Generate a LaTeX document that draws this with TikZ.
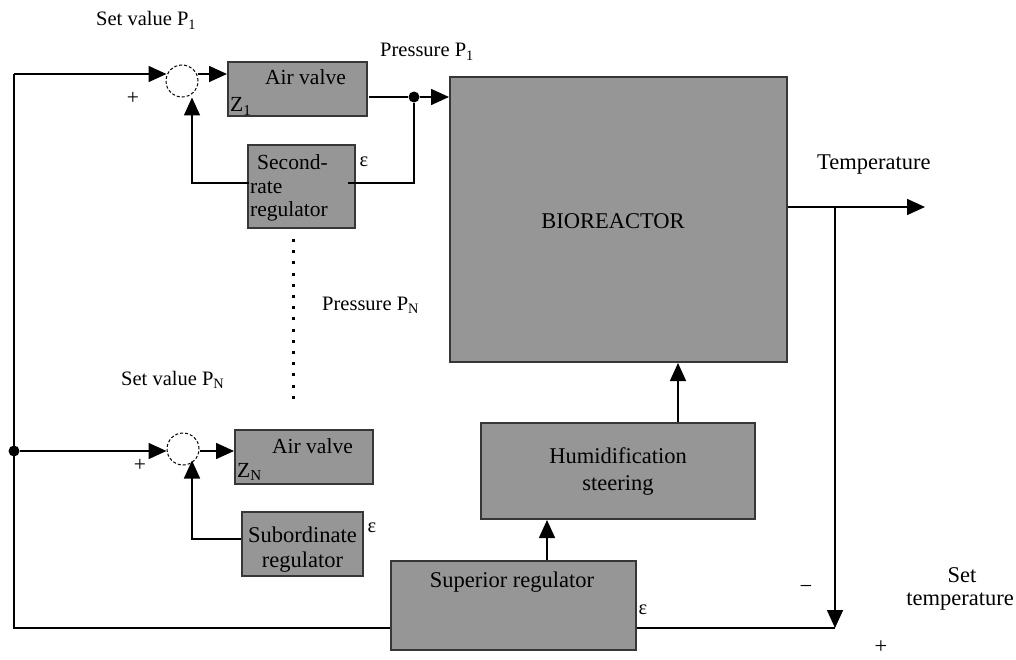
\documentclass[tikz,border=0pt]{standalone}
\usepackage{fontspec}
\newfontfamily\tms{Liberation Serif}
\usetikzlibrary{arrows.meta,calc}
\definecolor{boxfill}{RGB}{150,150,150}
\definecolor{boxline}{RGB}{55,55,55}

\begin{document}
\begin{tikzpicture}[x=1pt,y=-1pt,
  blk/.style={draw=boxline,fill=boxfill,line width=2pt,rectangle,inner sep=0pt},
  wire/.style={line width=1.6pt,draw=black},
  arr/.style={wire,-{Triangle[length=18pt,width=16pt]}},
  sumc/.style={circle,draw=black,line width=1pt,dash pattern=on 3pt off 2pt,minimum size=32pt,inner sep=0pt},
  jdot/.style={circle,fill=black,minimum size=11pt,inner sep=0pt},
  lbl/.style={font=\tms\fontsize{20.5}{24}\selectfont,inner sep=0pt},
  txt/.style={font=\tms\fontsize{21.5}{25}\selectfont,inner sep=0pt},
  big/.style={font=\tms\fontsize{22.5}{26}\selectfont,inner sep=0pt},
  dotline/.style={line width=3pt,dash pattern=on 3pt off 8.2pt}
]
\useasboundingbox (0,0) rectangle (1016,660);

% blocks
\node[blk,minimum width=139pt,minimum height=54pt] (av1) at (297.5,89) {};
\node[blk,minimum width=107pt,minimum height=83pt] (sr) at (301.5,186.5) {};
\node[blk,minimum width=337pt,minimum height=285pt] (bio) at (618.5,219.5) {};
\node[blk,minimum width=138pt,minimum height=54pt] (avN) at (304,457) {};
\node[blk,minimum width=121pt,minimum height=64pt] (sub) at (302.5,544) {};
\node[blk,minimum width=274pt,minimum height=96pt] (hum) at (618,471) {};
\node[blk,minimum width=245pt,minimum height=89pt] (sup) at (513.5,605.5) {};

% summing points and junctions
\node[sumc] (c1) at (182,81) {};
\node[sumc] (cN) at (183,449) {};
\node[jdot] (d1) at (414,97) {};
\node[jdot] (jn) at (14,451) {};

% helper points on the wiring
\coordinate (tlc) at (14,74);
\coordinate (supout) at ($(sup.east)+(0,22.5)$);
\coordinate (supin) at ($(sup.west)+(0,22.5)$);
\coordinate (supup) at ($(sup.north)+(33.5,0)$);
\coordinate (humup) at ($(hum.north)+(60,0)$);
\coordinate (tout) at ($(bio.east)+(0,-12.5)$);
\coordinate (tbr) at (835,207);
\coordinate (tend) at (925,207);

% outer temperature loop
\draw[wire] (supin) -| (tlc);
\draw[arr] (tlc) -- ($(c1.west)+(1,-7)$);
\draw[arr] (jn) -- ($(cN.west)+(0,2)$);
\draw[arr] (tout) -- (tend);
\draw[arr] (tbr) -- (tbr |- supout);
\draw[wire] (supout) -- (tbr |- supout);
\draw[arr] (supup) -- (supup |- hum.south);
\draw[arr] (humup) -- (humup |- bio.south);

% first pressure loop
\draw[arr] ($(c1.east)+(-1,-7)$) -- ($(av1.west)+(0,-15)$);
\draw[wire] ($(av1.east)+(1,8)$) -- (d1);
\draw[arr] (d1) -- (bio.west |- d1);
\draw[wire] (d1) |- ($(sr.east)+(-8,-3.5)$);
\draw[arr] ($(sr.west)+(2,-3.5)$) -| ($(c1.south)+(10,0)$);

% N-th pressure loop
\draw[arr] ($(cN.east)+(0,2)$) -- ($(avN.west)+(0,-6)$);
\draw[arr] ($(sub.west)+(0,-5)$) -| ($(cN.south)+(9,-5)$);

% further loops in between
\draw[dotline] ($(sr.south)+(-8.5,10)$) -- ($(avN.north)+(-11,-23)$);

% labels
\node[lbl,anchor=base west] (sv1) at (96,26) {Set value P\textsubscript{1}};
\node[lbl,anchor=base west] (pr1) at (380,57) {Pressure P\textsubscript{1}};
\node[txt,anchor=base west] (av1t) at (265,85) {Air valve};
\node[txt,anchor=base west] (av1z) at (230,112) {Z\textsubscript{1}};
\node[txt] (pl1) at (133,98) {+};
\node[txt,anchor=base west] (srt1) at (257,170) {Second-};
\node[txt,anchor=base west] (srt2) at (250,194) {rate};
\node[txt,anchor=base west] (srt3) at (250,217) {regulator};
\node[lbl] (eps1) at (364,162) {ε};

\node[big,anchor=base] (biot) at (613,229) {BIOREACTOR};
\node[big,anchor=base west] (tmp) at (817,170) {Temperature};
\node[lbl,anchor=base west] (prN) at (322,310) {Pressure P\textsubscript{N}};
\node[lbl,anchor=base west] (svN) at (121,385) {Set value P\textsubscript{N}};

\node[txt,anchor=base west] (avNt) at (272,453) {Air valve};
\node[txt,anchor=base west] (avNz) at (237,477) {Z\textsubscript{N}};
\node[txt] (plN) at (140,465) {+};
\node[big,anchor=base] (subt1) at (302.5,542) {Subordinate};
\node[big,anchor=base] (subt2) at (302.5,567) {regulator};
\node[lbl] (eps2) at (372,528) {ε};

\node[big,anchor=base] (humt1) at (618,463) {Humidification};
\node[big,anchor=base] (humt2) at (618,490) {steering};
\node[big,anchor=base] (supt) at (512,587) {Superior regulator};
\node[lbl] (eps3) at (643,610) {ε};

\node[big] (mns) at (806,589) {−};
\node[big] (pls) at (881,647) {+};
\node[big,anchor=base] (stt1) at (962,582) {Set};
\node[big,anchor=base] (stt2) at (960,605) {temperature};
\end{tikzpicture}
\end{document}
